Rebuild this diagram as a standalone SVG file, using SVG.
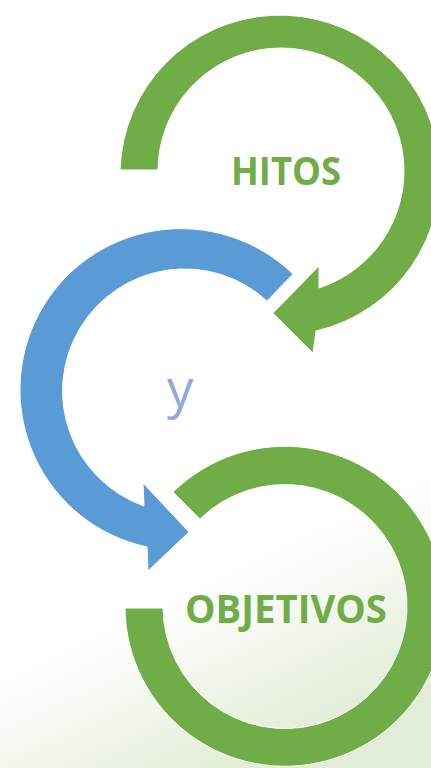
<svg xmlns="http://www.w3.org/2000/svg" width="431" height="768" viewBox="0 0 431 768">
<defs>
<linearGradient id="bg" gradientUnits="userSpaceOnUse" x1="170" y1="600" x2="250" y2="768">
<stop offset="0" stop-color="#ffffff"/>
<stop offset="1" stop-color="#e1edd6"/>
</linearGradient>
<style>
.g{fill:#70ad47;stroke:#ffffff;stroke-width:1}
.b{fill:#5b9bd5;stroke:#ffffff;stroke-width:1}
.lbl{font-family:"Open Sans","Liberation Sans",sans-serif;font-weight:bold;fill:#70ad47}
.y{font-family:"Open Sans","Liberation Sans",sans-serif;fill:#8faadc}
</style>
</defs>
<rect width="431" height="768" fill="url(#bg)"/>
<g id="connectors">
<path id="arrow-top" class="g" d="M120,170 A160,160 0 1 1 316,331 L313,353 L273,313 L319,266 L319,288 A123,123 0 1 0 158,170 Z"/>
<path id="arrow-mid" class="b" d="M293,274 A161,161 0 1 0 147,547 L148,571 L189,532 L143,483 L144,506 A122,122 0 1 1 267,301 Z"/>
<path id="arrow-bottom" class="g" d="M173,492 A160,160 0 1 1 125,608 L163,608 A122,122 0 1 0 200,519 Z"/>
</g>
<g id="node-hitos">
<text class="lbl" x="231" y="185" font-size="39" textLength="110" lengthAdjust="spacingAndGlyphs">HITOS</text>
</g>
<g id="node-y">
<text class="y" x="167" y="407" font-size="53">y</text>
</g>
<g id="node-objetivos">
<text class="lbl" x="185" y="623" font-size="40" textLength="202" lengthAdjust="spacingAndGlyphs">OBJETIVOS</text>
</g>
</svg>
